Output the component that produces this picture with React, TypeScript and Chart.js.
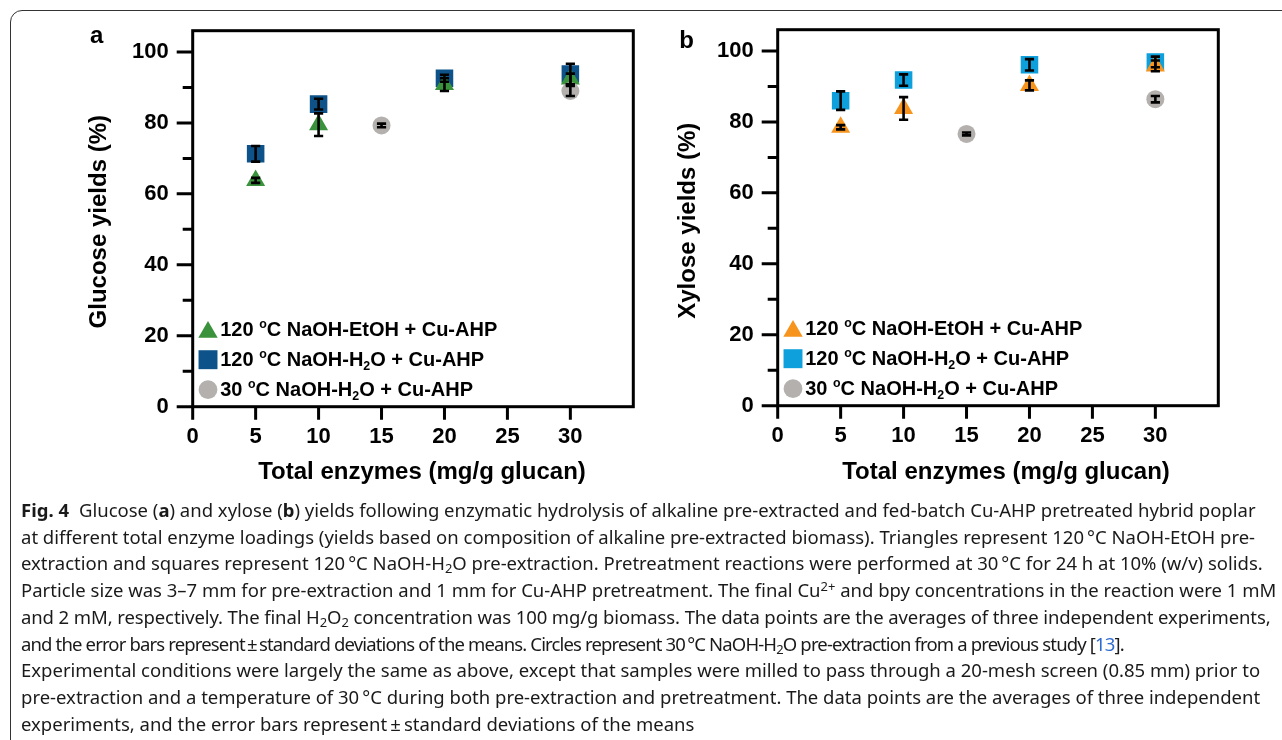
import React, { useEffect, useRef } from 'react';
import { Chart, registerables } from 'chart.js';

Chart.register(...registerables);

// ---------- data ----------
const enzymeLoadings = [5, 10, 20, 30];
const previousStudyLoadings = [15, 30];

const glucoseEtOH = [63.8, 79.5, 90.8, 92.4];
const glucoseEtOHSd = [0.7, 3.2, 1.8, 1.5];
const glucoseH2O = [71.3, 85.3, 92.6, 93.8];
const glucoseH2OSd = [2.2, 1.5, 1.0, 2.9];
const glucose30 = [79.3, 89.0];
const glucose30Sd = [0.5, 1.4];

const xyloseEtOH = [78.5, 83.8, 90.3, 95.8];
const xyloseEtOHSd = [0.6, 3.2, 1.4, 1.5];
const xyloseH2O = [86.0, 91.8, 96.1, 96.9];
const xyloseH2OSd = [2.6, 1.6, 1.6, 1.5];
const xylose30 = [76.6, 86.4];
const xylose30Sd = [0.4, 0.9];

const xTickValues = [0, 5, 10, 15, 20, 25, 30];
const yMajorTickValues = [0, 20, 40, 60, 80, 100];
const yMinorTickValues = [10, 30, 50, 70, 90];
const X_MAX = 35;
const Y_MAX = 106;

type Seg = { t: string; sup?: boolean; sub?: boolean };
const seriesLabels: Seg[][] = [
  [{ t: '120 ' }, { t: 'o', sup: true }, { t: 'C NaOH-EtOH + Cu-AHP' }],
  [{ t: '120 ' }, { t: 'o', sup: true }, { t: 'C NaOH-H' }, { t: '2', sub: true }, { t: 'O + Cu-AHP' }],
  [{ t: '30 ' }, { t: 'o', sup: true }, { t: 'C NaOH-H' }, { t: '2', sub: true }, { t: 'O + Cu-AHP' }],
];

const FONT = '"Liberation Sans", Arial, Helvetica, sans-serif';

function drawRich(ctx: CanvasRenderingContext2D, segs: Seg[], x: number, y: number, size: number) {
  let cx = x;
  ctx.textAlign = 'left';
  ctx.textBaseline = 'middle';
  segs.forEach((s) => {
    const fs = s.sup || s.sub ? size * 0.62 : size;
    ctx.font = `bold ${fs}px ${FONT}`;
    const dy = s.sup ? -size * 0.28 : s.sub ? size * 0.3 : 0;
    ctx.fillText(s.t, cx, y + dy);
    cx += ctx.measureText(s.t).width;
  });
}

function drawMarker(ctx: CanvasRenderingContext2D, style: string, x: number, y: number, size: number, color: string) {
  ctx.fillStyle = color;
  ctx.beginPath();
  if (style === 'triangle') {
    const r = size;
    ctx.moveTo(x, y - r);
    ctx.lineTo(x + r * Math.sin((2 * Math.PI) / 3), y + r * 0.5);
    ctx.lineTo(x - r * Math.sin((2 * Math.PI) / 3), y + r * 0.5);
    ctx.closePath();
  } else if (style === 'rect') {
    const h = size * Math.SQRT1_2;
    ctx.rect(x - h, y - h, 2 * h, 2 * h);
  } else {
    ctx.arc(x, y, size, 0, Math.PI * 2);
  }
  ctx.fill();
}

const decorPlugin = {
  id: 'panelDecor',
  afterDatasetsDraw(chart: any) {
    const ctx: CanvasRenderingContext2D = chart.ctx;
    const xs = chart.scales.x;
    const ys = chart.scales.y;
    ctx.save();
    ctx.strokeStyle = '#000';
    ctx.lineWidth = 2.6;
    chart.data.datasets.forEach((ds: any) => {
      ds.data.forEach((p: any, i: number) => {
        const sd = ds.errors[i];
        const px = xs.getPixelForValue(p.x);
        const yTop = ys.getPixelForValue(p.y + sd);
        const yBot = ys.getPixelForValue(p.y - sd);
        ctx.beginPath();
        ctx.moveTo(px, yTop);
        ctx.lineTo(px, yBot);
        ctx.moveTo(px - 4.6, yTop);
        ctx.lineTo(px + 4.6, yTop);
        ctx.moveTo(px - 4.6, yBot);
        ctx.lineTo(px + 4.6, yBot);
        ctx.stroke();
      });
    });
    ctx.restore();
  },
  afterDraw(chart: any, _args: any, opts: any) {
    const ctx: CanvasRenderingContext2D = chart.ctx;
    const { left, right, top, bottom } = chart.chartArea;
    const xs = chart.scales.x;
    const ys = chart.scales.y;
    ctx.save();
    ctx.strokeStyle = '#000';
    ctx.fillStyle = '#000';
    ctx.lineWidth = 3;
    ctx.lineCap = 'butt';
    // frame box
    ctx.strokeRect(left, top, right - left, bottom - top);
    // y ticks
    ctx.beginPath();
    yMajorTickValues.forEach((v) => {
      const py = ys.getPixelForValue(v);
      ctx.moveTo(left - 16, py);
      ctx.lineTo(left, py);
    });
    yMinorTickValues.forEach((v) => {
      const py = ys.getPixelForValue(v);
      ctx.moveTo(left - 10, py);
      ctx.lineTo(left, py);
    });
    // x ticks
    xTickValues.forEach((v) => {
      const px = xs.getPixelForValue(v);
      ctx.moveTo(px, bottom);
      ctx.lineTo(px, bottom + 13);
    });
    ctx.stroke();

    // axis titles
    ctx.font = `bold 24px ${FONT}`;
    ctx.textAlign = 'center';
    ctx.textBaseline = 'middle';
    ctx.fillText(opts.xTitle, (left + right) / 2 + opts.xTitleShift, opts.xTitleY);
    ctx.save();
    ctx.translate(opts.yTitleX, (top + bottom) / 2 + 3);
    ctx.rotate(-Math.PI / 2);
    ctx.fillText(opts.yTitle, 0, 0);
    ctx.restore();

    // panel letter
    ctx.font = `bold 24px ${FONT}`;
    ctx.textBaseline = 'alphabetic';
    ctx.fillText(opts.letter, opts.letterX, opts.letterY);

    // legend
    const rows = [bottom - 77, bottom - 47, bottom - 17];
    chart.data.datasets.forEach((ds: any, i: number) => {
      const y = rows[i];
      const sizes: Record<string, number> = { triangle: 11.2, rect: 13.4, circle: 9.4 };
      drawMarker(ctx, ds.pointStyle, left + 15.3, y + (ds.pointStyle === 'triangle' ? 2.5 : 0), sizes[ds.pointStyle], ds.backgroundColor);
      ctx.fillStyle = '#000';
      drawRich(ctx, seriesLabels[i], left + 27.5, y + 0.5, 20);
    });
    ctx.restore();
  },
};

type Series = { x: number[]; y: number[]; sd: number[]; style: string; radius: number; color: string; order: number };

function makeConfig(series: Series[], opts: any): any {
  const tickFont = { family: FONT, size: 22, weight: 'bold' as const };
  return {
    type: 'scatter',
    data: {
      datasets: series.map((s, i) => ({
        label: seriesLabels[i].map((g) => g.t).join(''),
        data: s.x.map((x, j) => ({ x, y: s.y[j] })),
        errors: s.sd,
        pointStyle: s.style,
        pointRadius: s.radius,
        pointHoverRadius: s.radius,
        backgroundColor: s.color,
        borderWidth: 0,
        pointBorderWidth: 0,
        order: s.order,
      })),
    },
    options: {
      animation: false,
      responsive: false,
      maintainAspectRatio: false,
      events: [],
      layout: { padding: { left: 0, right: 16.7, top: 15.7, bottom: 13.3 } },
      plugins: {
        legend: { display: false },
        tooltip: { enabled: false },
        title: { display: false },
        panelDecor: opts,
      },
      scales: {
        x: {
          type: 'linear',
          min: 0,
          max: X_MAX,
          grid: { display: false, drawTicks: false },
          border: { display: false },
          afterBuildTicks: (s: any) => {
            s.ticks = xTickValues.map((value) => ({ value }));
          },
          afterFit: (s: any) => {
            s.height = 80;
            s.paddingLeft = 0;
            s.paddingRight = 0;
            s.paddingTop = 0;
            s.paddingBottom = 0;
          },
          ticks: { font: tickFont, color: '#000', padding: 17, maxRotation: 0, autoSkip: false },
        },
        y: {
          type: 'linear',
          min: 0,
          max: Y_MAX,
          grid: { display: false, drawTicks: false },
          border: { display: false },
          afterBuildTicks: (s: any) => {
            s.ticks = yMajorTickValues.map((value) => ({ value }));
          },
          afterFit: (s: any) => {
            s.width = 132.7;
            s.paddingLeft = 0;
            s.paddingRight = 0;
            s.paddingTop = 0;
            s.paddingBottom = 0;
          },
          ticks: { font: tickFont, color: '#000', padding: 24, autoSkip: false },
        },
      },
    },
    plugins: [decorPlugin],
  };
}

const glucoseSeries: Series[] = [
  { x: enzymeLoadings, y: glucoseEtOH, sd: glucoseEtOHSd, style: 'triangle', radius: 11, color: '#3b923c', order: 1 },
  { x: enzymeLoadings, y: glucoseH2O, sd: glucoseH2OSd, style: 'rect', radius: 12.4, color: '#0d5288', order: 2 },
  { x: previousStudyLoadings, y: glucose30, sd: glucose30Sd, style: 'circle', radius: 9, color: '#b3b0ae', order: 0 },
];
const xyloseSeries: Series[] = [
  { x: enzymeLoadings, y: xyloseEtOH, sd: xyloseEtOHSd, style: 'triangle', radius: 11, color: '#f7941e', order: 1 },
  { x: enzymeLoadings, y: xyloseH2O, sd: xyloseH2OSd, style: 'rect', radius: 12.4, color: '#0ea0dc', order: 2 },
  { x: previousStudyLoadings, y: xylose30, sd: xylose30Sd, style: 'circle', radius: 9, color: '#b3b0ae', order: 0 },
];

const sub = (t: string) => (
  <span style={{ fontSize: '0.7em', verticalAlign: '-0.25em', lineHeight: 0 }}>{t}</span>
);
const sup = (t: string) => (
  <span style={{ fontSize: '0.7em', verticalAlign: '0.45em', lineHeight: 0 }}>{t}</span>
);

export default function App() {
  const refA = useRef<HTMLCanvasElement>(null);
  const refB = useRef<HTMLCanvasElement>(null);

  useEffect(() => {
    const a = new Chart(
      refA.current as HTMLCanvasElement,
      makeConfig(glucoseSeries, {
        letter: 'a', letterX: 36.7, letterY: 28.3,
        xTitle: 'Total enzymes (mg/g glucan)', xTitleShift: 9, xTitleY: 457,
        yTitle: 'Glucose yields (%)', yTitleX: 39,
      })
    );
    const b = new Chart(
      refB.current as HTMLCanvasElement,
      makeConfig(xyloseSeries, {
        letter: 'b', letterX: 41.7, letterY: 34.3,
        xTitle: 'Total enzymes (mg/g glucan)', xTitleShift: 8, xTitleY: 458,
        yTitle: 'Xylose yields (%)', yTitleX: 43,
      })
    );
    return () => {
      a.destroy();
      b.destroy();
    };
  }, []);

  const capStyle: React.CSSProperties = {
    position: 'absolute',
    left: 21,
    top: 497,
    fontFamily: '"Noto Sans", "Open Sans", sans-serif',
    fontSize: 18.5,
    lineHeight: '26.7px',
    color: '#1a1a1a',
    whiteSpace: 'nowrap',
  };
  const deg = '\u2009°C';

  return (
    <div style={{ position: 'absolute', left: 0, top: 0, width: 1282, height: 740, overflow: 'hidden', background: '#fff' }}>
      <div
        style={{
          position: 'absolute', left: 10, top: 10, width: 1400, height: 900,
          border: '1.3px solid #333', borderRadius: 12, boxSizing: 'border-box',
        }}
      />
      <canvas ref={refA} width={590} height={485} style={{ position: 'absolute', left: 60, top: 15 }} />
      <canvas ref={refB} width={590} height={485} style={{ position: 'absolute', left: 645, top: 14 }} />
      <div style={capStyle}>
        <div>
          <b style={{ marginRight: 10 }}>Fig. 4</b>Glucose (<b>a</b>) and xylose (<b>b</b>) yields following enzymatic hydrolysis of alkaline pre-extracted and fed-batch Cu-AHP pretreated hybrid poplar
        </div>
        <div>
          at different total enzyme loadings (yields based on composition of alkaline pre-extracted biomass). Triangles represent 120{deg} NaOH-EtOH pre-
        </div>
        <div>
          extraction and squares represent 120{deg} NaOH-H{sub('2')}O pre-extraction. Pretreatment reactions were performed at 30{deg} for 24 h at 10% (w/v) solids.
        </div>
        <div>
          Particle size was 3–7 mm for pre-extraction and 1 mm for Cu-AHP pretreatment. The final Cu{sup('2+')} and bpy concentrations in the reaction were 1 mM
        </div>
        <div style={{ letterSpacing: -0.1 }}>
          and 2 mM, respectively. The final H{sub('2')}O{sub('2')} concentration was 100 mg/g biomass. The data points are the averages of three independent experiments,
        </div>
        <div style={{ letterSpacing: -0.85 }}>
          and the error bars represent{'\u2009±\u2009'}standard deviations of the means. Circles represent 30{deg} NaOH-H{sub('2')}O pre-extraction from a previous study [<span style={{ color: '#2f6bd0' }}>13</span>].
        </div>
        <div>
          Experimental conditions were largely the same as above, except that samples were milled to pass through a 20-mesh screen (0.85 mm) prior to
        </div>
        <div>
          pre-extraction and a temperature of 30{deg} during both pre-extraction and pretreatment. The data points are the averages of three independent
        </div>
        <div>
          experiments, and the error bars represent{'\u2009±\u2009'}standard deviations of the means
        </div>
      </div>
    </div>
  );
}
